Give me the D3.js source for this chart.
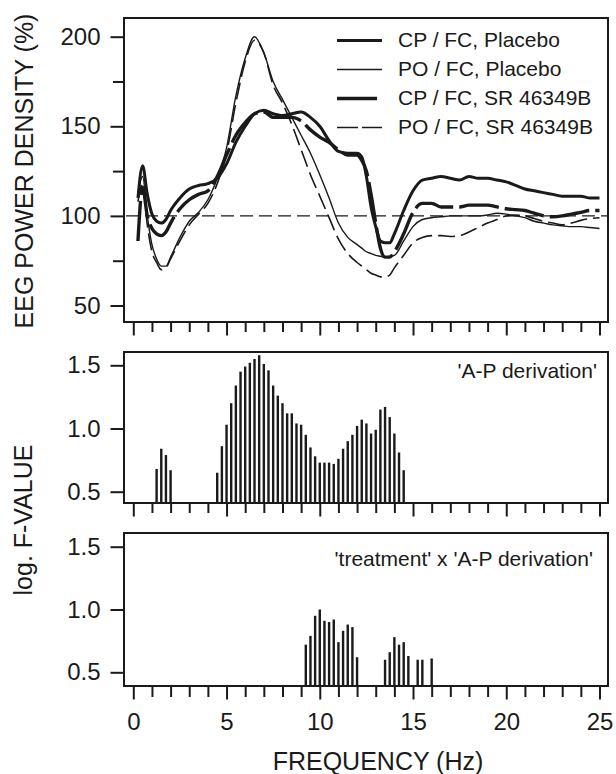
<!DOCTYPE html>
<html>
<head>
<meta charset="utf-8">
<script src="https://cdn.jsdelivr.net/npm/d3@7"></script>
<style>
  html, body { margin: 0; padding: 0; background: #fff; }
  svg { display: block; }
  text { font-family: "Liberation Sans", Arial, Helvetica, sans-serif; fill: #1a1a1a; }
</style>
</head>
<body>
<svg id="chart" width="616" height="774"></svg>
<script>
// ---------- DATA ----------
const freqs = [0.25,0.5,0.75,1,1.25,1.5,1.75,2,2.5,3,3.5,4,4.5,5,5.5,6,6.5,7,7.5,8,8.5,9,9.5,10,10.5,11,11.5,12,
  12.25,12.5,12.75,13,13.25,13.5,13.75,14,14.5,15,15.5,16,16.5,17,17.5,18,18.5,19,19.5,20,20.5,21,21.5,22,22.5,23,23.5,24,24.5,25];

const cpPlacebo = [110,128,112,101,97,96,98,103,110,115,117,118,121,129,141,150,157,159,157,156,157,158,155,150,142,136,135,135,
  133,122,105,94,86,85,85,90,103,114,120,121,122,121,120,122,121,121,120,119,117,115,114,113,112,111,111,111,110,110];
const poPlacebo = [113,122,100,84,76,72,72,77,88,97,102,109,121,138,167,188,200,191,175,165,155,145,135,123,110,96,88,84,
  82,80,79,78,77.5,77,77.5,78,86,94,98,99,99.5,100,100,100,100,100.5,101.5,101,100,99,97,96,95,94.5,94,94,93.5,93];
const cpSR = [86,116,100,93,90,89,91,96,104,109,112,114,122,134,145,152,157,158,155,155,155,153,148,144,141,137,134,134,
  131,125,112,96,82,77,77,80,90,102,107,107,105,105,105,106,106,106,105,104,103.5,103,101.5,100,99.5,100,101,102,103,103];
const poSR = [108,118,95,80,74,70,71,76,86,95,101,107,118,135,163,186,198,191,173,163,151,137,123,111,99,87,79,74,
  72,70,68,67,66,66,67,71,78,85,88,89,89,88.5,89,91,93.5,96,98,100,100.5,100,98.5,97,96,95,96,97.5,98.5,99];

const seriesNames = ["CP / FC, Placebo", "PO / FC, Placebo", "CP / FC, SR 46349B", "PO / FC, SR 46349B"];

const apFreqs = [1.25,1.5,1.75,2.0,
  4.5,4.75,5,5.25,5.5,5.75,6,6.25,6.5,6.75,7,7.25,7.5,7.75,8,8.25,8.5,8.75,9,9.25,9.5,9.75,10,10.25,10.5,10.75,
  11,11.25,11.5,11.75,12,12.25,12.5,12.75,13,13.25,13.5,13.75,14,14.25,14.5];
const apValues = [0.68,0.84,0.79,0.67,
  0.65,0.86,1.03,1.20,1.34,1.45,1.49,1.52,1.55,1.58,1.51,1.46,1.34,1.26,1.20,1.12,1.12,1.04,1.03,0.95,0.85,0.78,0.73,0.73,0.73,0.72,
  0.76,0.84,0.90,0.95,1.02,1.07,1.04,0.96,0.99,1.15,1.17,1.09,0.96,0.81,0.67];

const txFreqs = [9.25,9.5,9.75,10,10.25,10.5,10.75,11,11.25,11.5,11.75,12,13.5,13.75,14,14.25,14.5,14.75,15.25,15.5,16];
const txValues = [0.72,0.79,0.95,1.00,0.91,0.90,0.92,0.74,0.83,0.88,0.86,0.62,0.60,0.66,0.78,0.72,0.74,0.63,0.60,0.60,0.61];

const topTicks = [50,100,150,200];
const topMinorTicks = [75,125,175];
const fTicks = [0.5,1.0,1.5];
const xMajorTicks = [0,5,10,15,20,25];
const xMinorTicks = d3.range(0,26,1).filter(d => d % 5 !== 0);

const panelLabelMid = "'A-P derivation'";
const panelLabelBot = "'treatment' x 'A-P derivation'";

// ---------- LAYOUT ----------
const ink = "#1a1a1a";
const svg = d3.select("#chart");
const L = 124, R = 608;
const panels = {
  top: {t: 18, b: 322},
  mid: {t: 352, b: 503},
  bot: {t: 533, b: 686}
};

const x = d3.scaleLinear().domain([0,25]).range([133.3, 599.5]);
const yTop = d3.scaleLinear().domain([50,200]).range([305.5, 36.7]);
const yMid = d3.scaleLinear().domain([0.5,1.5]).range([491.7, 365.3]);
const yBot = d3.scaleLinear().domain([0.5,1.5]).range([672.3, 546.7]);

function styleAxis(g, width) {
  g.select(".domain").remove();
  g.selectAll(".tick line").attr("stroke", ink).attr("stroke-width", width || 2);
  g.selectAll(".tick text").attr("fill", ink).style("font-size", "24px")
    .style("font-family", '"Liberation Sans", Arial, sans-serif');
}

// X axes under each panel
Object.entries(panels).forEach(([key, p]) => {
  const gMinor = svg.append("g").attr("transform", `translate(0,${p.b})`)
    .call(d3.axisBottom(x).tickValues(xMinorTicks).tickSize(key === "bot" ? 11 : 10).tickFormat(""));
  styleAxis(gMinor);
  const gMajor = svg.append("g").attr("transform", `translate(0,${p.b})`)
    .call(d3.axisBottom(x).tickValues(xMajorTicks).tickSize(13.5).tickPadding(13)
      .tickFormat(key === "bot" ? d3.format("d") : ""));
  styleAxis(gMajor);
});

// Y axes
const gTopY = svg.append("g").attr("transform", `translate(${L},0)`)
  .call(d3.axisLeft(yTop).tickValues(topTicks).tickSize(13.5).tickPadding(10).tickFormat(d3.format("d")));
styleAxis(gTopY);
const gTopYm = svg.append("g").attr("transform", `translate(${L},0)`)
  .call(d3.axisLeft(yTop).tickValues(topMinorTicks).tickSize(11).tickFormat(""));
styleAxis(gTopYm);
[[yMid],[yBot]].forEach(([ys]) => {
  const g = svg.append("g").attr("transform", `translate(${L},0)`)
    .call(d3.axisLeft(ys).tickValues(fTicks).tickSize(13.5).tickPadding(10).tickFormat(d3.format(".1f")));
  styleAxis(g);
});

// Reference line at 100
svg.append("line")
  .attr("x1", L + 2).attr("x2", R - 1)
  .attr("y1", yTop(100)).attr("y2", yTop(100))
  .attr("stroke", ink).attr("stroke-width", 1.3).attr("stroke-dasharray", "13,6");

// Curves
const lineGen = ys => d3.line().x((d,i) => x(freqs[i])).y(d => ys(d)).curve(d3.curveMonotoneX);
const curves = [
  {data: cpPlacebo, w: 3.0, dash: null},
  {data: poPlacebo, w: 1.4, dash: null},
  {data: cpSR, w: 3.4, dash: "40,6"},
  {data: poSR, w: 1.6, dash: "17,6"}
];
curves.forEach(c => {
  svg.append("path").datum(c.data)
    .attr("d", lineGen(yTop))
    .attr("fill", "none").attr("stroke", ink)
    .attr("stroke-width", c.w)
    .attr("stroke-linejoin", "round").attr("stroke-linecap", "butt")
    .attr("stroke-dasharray", c.dash);
});

// Legend
const legend = svg.append("g");
seriesNames.forEach((name, i) => {
  const yy = 40.5 + i * 29;
  const c = curves[i];
  legend.append("line")
    .attr("x1", 337).attr("x2", i === 2 ? 377 : 382)
    .attr("y1", yy).attr("y2", yy)
    .attr("stroke", ink).attr("stroke-width", c.w)
    .attr("stroke-dasharray", i === 3 ? "21,4" : null);
  legend.append("text").attr("x", 398).attr("y", yy + 6.5)
    .style("font-size", "21px").text(name);
});

// Bars
function drawBars(fs, vs, ys, p) {
  svg.append("g").selectAll("rect").data(vs).join("rect")
    .attr("x", (d,i) => x(fs[i]) - 1.2)
    .attr("width", 2.4)
    .attr("y", d => ys(d))
    .attr("height", d => p.b - ys(d))
    .attr("fill", ink);
}
drawBars(apFreqs, apValues, yMid, panels.mid);
drawBars(txFreqs, txValues, yBot, panels.bot);

// Frames
Object.values(panels).forEach(p => {
  svg.append("rect").attr("x", L).attr("y", p.t)
    .attr("width", R - L).attr("height", p.b - p.t)
    .attr("fill", "none").attr("stroke", ink).attr("stroke-width", 2);
});

// Panel labels
svg.append("text").attr("x", 597).attr("y", 378).attr("text-anchor", "end")
  .style("font-size", "21px").text(panelLabelMid);
svg.append("text").attr("x", 593).attr("y", 566).attr("text-anchor", "end")
  .style("font-size", "21px").text(panelLabelBot);

// Axis titles
svg.append("text").attr("x", 378).attr("y", 770).attr("text-anchor", "middle")
  .style("font-size", "25px").text("FREQUENCY (Hz)");
svg.append("text").attr("transform", "translate(33,171) rotate(-90)").attr("text-anchor", "middle")
  .style("font-size", "25px").text("EEG POWER DENSITY (%)");
svg.append("text").attr("transform", "translate(32,520) rotate(-90)").attr("text-anchor", "middle")
  .style("font-size", "25px").text("log. F-VALUE");
</script>
</body>
</html>
